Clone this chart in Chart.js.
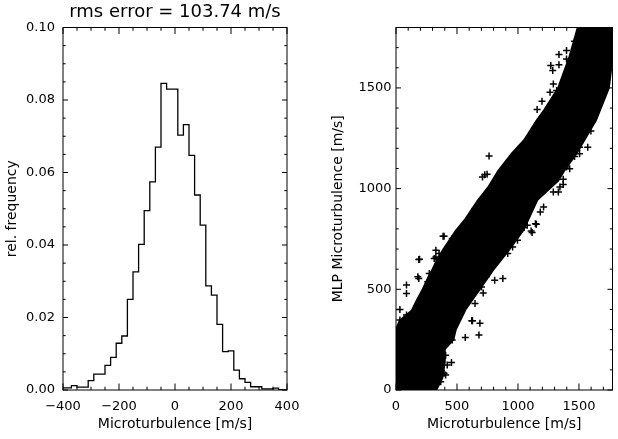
<!DOCTYPE html>
<html>
<head>
<meta charset="utf-8">
<script src="https://cdn.jsdelivr.net/npm/chart.js@4.4.1/dist/chart.umd.min.js"></script>
<style>
  body { margin: 0; background: #fff; }
  #wrap { position: relative; width: 618px; height: 439px; }
  canvas { position: absolute; top: 0; }
</style>
</head>
<body>
<div id="wrap">
  <canvas id="hist" width="310" height="439" style="left:0"></canvas>
  <canvas id="scat" width="308" height="439" style="left:310px"></canvas>
</div>
<script>
// histogram of the error, bin centres in m/s
const histCenters = [-400, -380, -360, -340, -320, -300, -280, -260, -240, -220, -200, -180, -160, -140, -120, -100, -80, -60, -40, -20,
  0, 20, 40, 60, 80, 100, 120, 140, 160, 180, 200, 220, 240, 260, 280, 300, 320, 340, 360, 380, 400];
const histFreq = [0.0006, 0.0006, 0.0012, 0.0008, 0.0008, 0.0026, 0.0044, 0.0044, 0.0068, 0.0090, 0.0129, 0.0149, 0.0250, 0.0326, 0.0402, 0.0495, 0.0574, 0.0670, 0.0846, 0.0830,
  0.0830, 0.0703, 0.0732, 0.0647, 0.0538, 0.0455, 0.0287, 0.0262, 0.0181, 0.0106, 0.0108, 0.0055, 0.0031, 0.0021, 0.0009, 0.0009, 0.0003, 0.0003, 0.0005, 0.0001, 0.0000];
const histTicksX = [-400, -200, 0, 200, 400];
const histTicksY = [0, 0.02, 0.04, 0.06, 0.08, 0.10];
const histMinorX = [-350, -300, -250, -150, -100, -50, 50, 100, 150, 250, 300, 350];
const histMinorY = [0.005, 0.010, 0.015, 0.025, 0.030, 0.035, 0.045, 0.050, 0.055, 0.065, 0.070, 0.075, 0.085, 0.090, 0.095];

// scatter: outline of the dense cloud (true vs. MLP), then the loose points around it
const cloudOutline = [
  [0, 0], [0, 300], [30, 345], [130, 395], [170, 445], [215, 495], [265, 560], [300, 600], [340, 650], [390, 700],
  [490, 790], [570, 850], [670, 940], [760, 1010], [840, 1090], [950, 1175], [1050, 1240], [1150, 1335], [1215, 1390],
  [1330, 1500], [1420, 1650], [1490, 1800], [1775, 1800], [1775, 1650], [1745, 1500], [1640, 1340], [1480, 1175],
  [1380, 1090], [1330, 1040], [1160, 945], [1045, 795], [925, 695], [795, 595], [680, 495], [570, 400], [490, 300],
  [470, 250], [395, 200], [400, 140], [380, 60], [330, 0]
];
const loosePoints = [
  [187, 648], [187, 554], [86, 521], [32, 400], [32, 347], [86, 372], [32, 297], [621, 344], [680, 273], [568, 261],
  [876, 554], [809, 545], [715, 482], [648, 430], [260, 537], [407, 173], [420, 124], [394, 83], [367, 41], [688, 331],
  [627, 344], [461, 248], [455, 137], [407, 74], [86, 479], [763, 1162], [728, 1069], [394, 763], [461, 752], [327, 694],
  [193, 649], [179, 562], [273, 579], [1572, 1206], [1505, 1173], [1398, 1107], [1108, 790], [1143, 826], [1076, 818],
  [1183, 884], [643, 896], [1371, 1046], [1344, 1008], [1290, 983], [1210, 909], [1116, 782], [1151, 823], [1050, 807],
  [709, 1058], [747, 1071], [648, 901], [386, 763], [327, 661], [990, 1140], [1028, 1210], [990, 1149], [867, 1058],
  [1157, 1393], [1197, 1434], [1336, 1666], [1269, 1611], [1336, 1615], [1398, 1644], [1464, 1732], [1290, 1520],
  [1250, 1392], [1031, 1206], [1598, 1286], [1585, 1314], [1564, 1363], [1505, 1206], [1398, 1686], [1317, 1487],
  [1285, 1587], [1263, 1479], [1464, 1160], [1424, 1099], [1371, 1021],
  [916, 1082], [835, 1021], [769, 1000], [701, 942], [675, 859], [554, 802], [528, 768], [434, 710], [353, 678],
  [313, 653], [327, 595], [1331, 983], [996, 744], [956, 710], [916, 678], [741, 562], [701, 512]
];
const scatTicks = [0, 500, 1000, 1500];
const scatMinorX = [100, 200, 300, 400, 600, 700, 800, 900, 1100, 1200, 1300, 1400, 1600, 1700];
const scatMinorY = [100, 200, 300, 400, 600, 700, 800, 900, 1100, 1200, 1300, 1400, 1600, 1700];

const FONT = 'DejaVu Sans';
Chart.defaults.font.family = FONT;
Chart.defaults.color = '#000';

// IDL-like frame: box round the plot, ticks pointing inwards on all four sides
const boxTicks = {
  id: 'boxTicks',
  afterDraw(chart, args, opts) {
    const { ctx, chartArea: a, scales: { x, y } } = chart;
    ctx.save();
    ctx.strokeStyle = '#000';
    ctx.lineWidth = 1;
    ctx.strokeRect(a.left, a.top, a.right - a.left, a.bottom - a.top);
    ctx.beginPath();
    const tx = (v, len) => {
      const p = x.getPixelForValue(v);
      ctx.moveTo(p, a.bottom); ctx.lineTo(p, a.bottom - len);
      ctx.moveTo(p, a.top); ctx.lineTo(p, a.top + len);
    };
    const ty = (v, len) => {
      const p = y.getPixelForValue(v);
      ctx.moveTo(a.left, p); ctx.lineTo(a.left + len, p);
      ctx.moveTo(a.right, p); ctx.lineTo(a.right - len, p);
    };
    opts.minorX.forEach(v => tx(v, 3.3));
    opts.minorY.forEach(v => ty(v, 2.7));
    x.ticks.forEach(t => tx(t.value, 6.5));
    y.ticks.forEach(t => ty(t.value, 5));
    ctx.stroke();
    ctx.restore();
  }
};

const fixedTicks = list => scale => { scale.ticks = list.map(v => ({ value: v })); };

new Chart(document.getElementById('hist'), {
  type: 'line',
  data: {
    datasets: [{
      data: histCenters.map((c, i) => ({ x: c, y: histFreq[i] })),
      stepped: 'middle',
      borderColor: '#000',
      borderWidth: 1.3,
      pointRadius: 0,
      fill: false
    }]
  },
  options: {
    responsive: false,
    animation: false,
    layout: { padding: { left: 0, right: 23, top: 0, bottom: 0 } },
    plugins: {
      legend: { display: false },
      tooltip: { enabled: false },
      title: {
        display: true,
        fullSize: false,
        text: 'rms error = 103.74 m/s',
        font: { size: 18, weight: 'normal' },
        color: '#000',
        padding: { top: 2, bottom: 3.9 }
      },
      boxTicks: { minorX: histMinorX, minorY: histMinorY }
    },
    scales: {
      x: {
        type: 'linear', min: -400, max: 400,
        afterBuildTicks: fixedTicks(histTicksX),
        afterFit: s => { s.height = 49; },
        grid: { display: false, drawTicks: false },
        border: { display: false },
        ticks: { font: { size: 13 }, padding: 9, maxRotation: 0,
          callback: v => String(v).replace('-', '\u2212') },
        title: { display: true, text: 'Microturbulence [m/s]', font: { size: 14 }, padding: { bottom: 6 } }
      },
      y: {
        min: 0, max: 0.1,
        afterBuildTicks: fixedTicks(histTicksY),
        afterFit: s => { s.width = 63; },
        grid: { display: false, drawTicks: false },
        border: { display: false },
        ticks: { font: { size: 13 }, padding: 8, callback: v => v.toFixed(2) },
        title: { display: true, text: 'rel. frequency', font: { size: 14 }, padding: { top: 4 } }
      }
    }
  },
  plugins: [boxTicks]
});

new Chart(document.getElementById('scat'), {
  type: 'scatter',
  data: {
    datasets: [{
      data: loosePoints.map(p => ({ x: p[0], y: p[1] })),
      pointStyle: 'cross',
      radius: 3.5,
      borderColor: '#000',
      borderWidth: 1.5
    }, {
      data: cloudOutline.map(p => ({ x: p[0], y: p[1] })),
      showLine: true,
      fill: 'shape',
      backgroundColor: '#000',
      borderColor: '#000',
      borderWidth: 2,
      pointRadius: 0
    }]
  },
  options: {
    responsive: false,
    animation: false,
    layout: { padding: { left: 0, right: 1, top: 27.5, bottom: 0 } },
    plugins: {
      legend: { display: false },
      tooltip: { enabled: false },
      boxTicks: { minorX: scatMinorX, minorY: scatMinorY }
    },
    scales: {
      x: {
        type: 'linear', min: 0, max: 1775,
        afterBuildTicks: fixedTicks(scatTicks),
        afterFit: s => { s.height = 49; },
        grid: { display: false, drawTicks: false },
        border: { display: false },
        ticks: { font: { size: 13 }, padding: 9, maxRotation: 0, callback: v => String(v) },
        title: { display: true, text: 'Microturbulence [m/s]', font: { size: 14 }, padding: { bottom: 6 } }
      },
      y: {
        min: 0, max: 1800,
        afterBuildTicks: fixedTicks(scatTicks),
        afterFit: s => { s.width = 86; },
        grid: { display: false, drawTicks: false },
        border: { display: false },
        ticks: { font: { size: 13 }, padding: 4.5, callback: v => String(v) },
        title: { display: true, text: 'MLP Microturbulence [m/s]', font: { size: 14 }, padding: { top: 20 } }
      }
    }
  },
  plugins: [boxTicks]
});
</script>
</body>
</html>
